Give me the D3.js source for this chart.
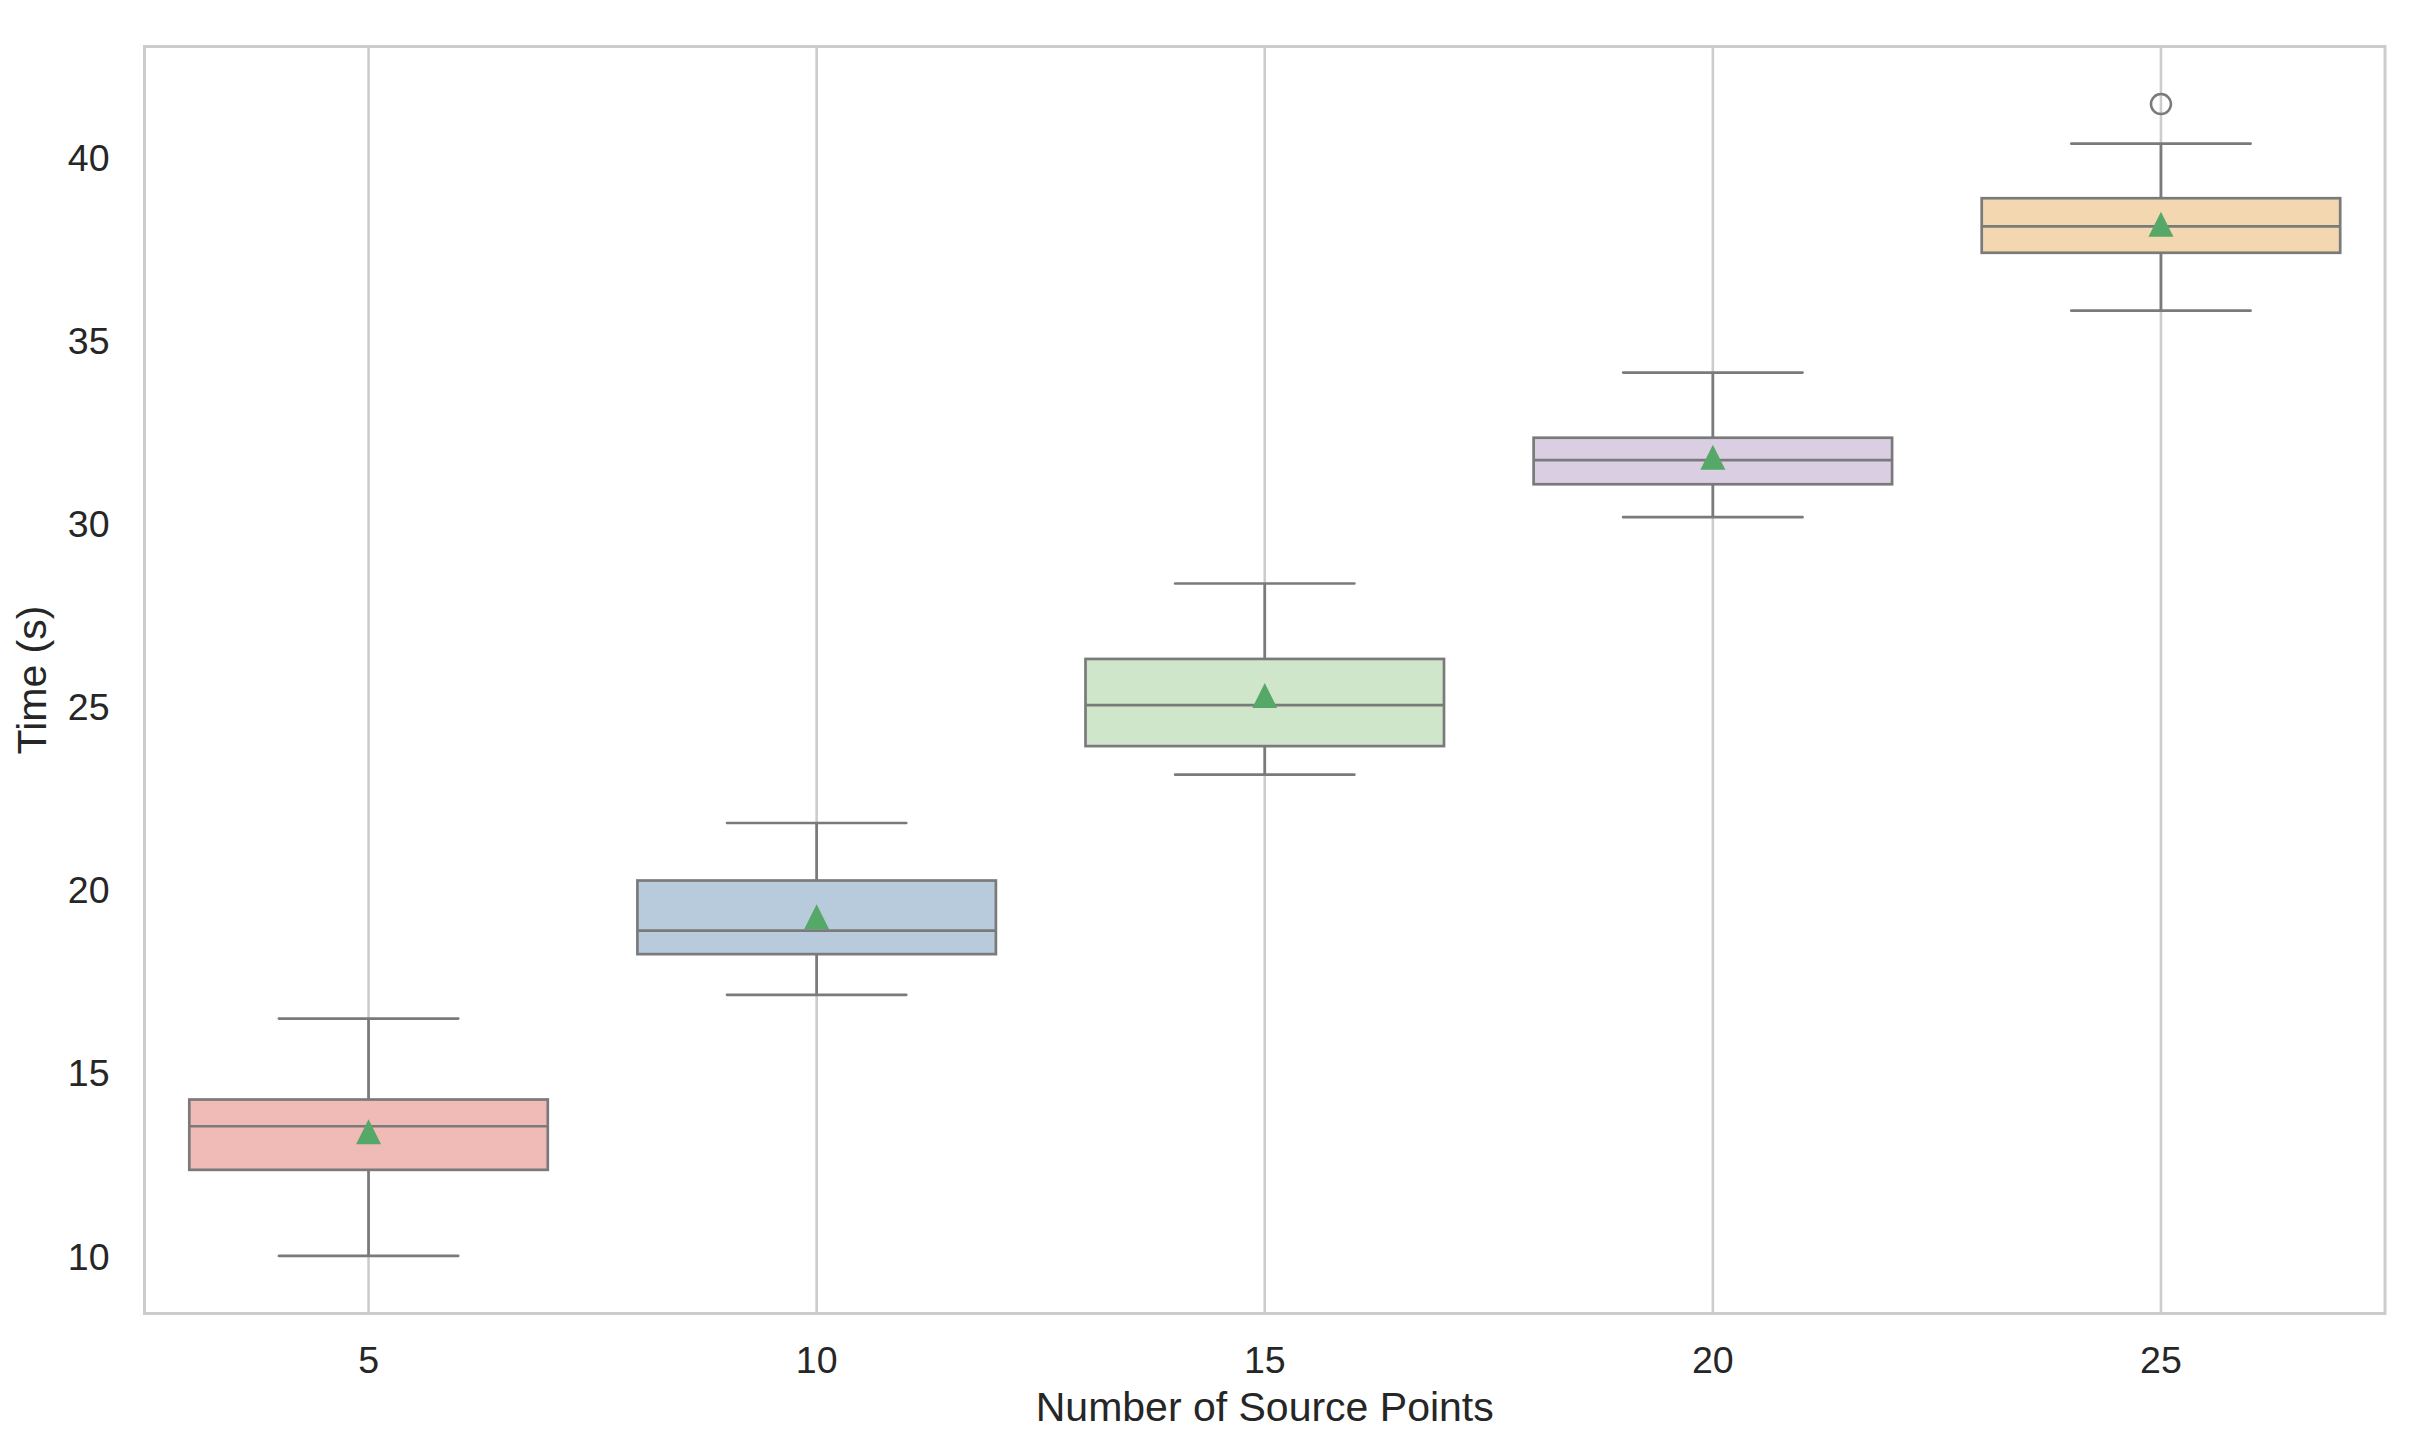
<!DOCTYPE html>
<html>
<head>
<meta charset="utf-8">
<script src="https://cdn.jsdelivr.net/npm/d3@7/dist/d3.min.js"></script>
<style>
  html, body { margin: 0; padding: 0; background: #ffffff; }
  svg { display: block; font-family: "Liberation Sans", Arial, sans-serif; }
</style>
</head>
<body>
<svg id="chart" width="2418" height="1452"></svg>
<script>
// ---- Data ----
const categories   = ["5", "10", "15", "20", "25"];
const whiskerLow   = [10.03, 17.16, 23.17, 30.20, 35.84];
const q1Values     = [12.38, 18.27, 23.95, 31.10, 37.42];
const medianValues = [13.57, 18.91, 25.07, 31.76, 38.14];
const q3Values     = [14.30, 20.28, 26.33, 32.37, 38.91];
const whiskerHigh  = [16.51, 21.85, 28.39, 34.15, 40.40];
const meanValues   = [13.42, 19.29, 25.33, 31.84, 38.20];
const outlierCats  = ["25"];
const outlierVals  = [41.48];
const yTickValues  = [10, 15, 20, 25, 30, 35, 40];
const boxColors    = ["#f0bab7", "#b8cbdd", "#cfe6cb", "#dacfe2", "#f2d7b0"];
const xLabel = "Number of Source Points";
const yLabel = "Time (s)";

// ---- Layout ----
const plot = { left: 144.5, top: 46.5, right: 2385, bottom: 1313.5 };
const lineColor = "#7a7a7a";
const gridColor = "#cccccc";
const textColor = "#262626";

const svg = d3.select("#chart");

const x = d3.scaleBand().domain(categories).range([plot.left, plot.right]).paddingInner(0).paddingOuter(0);
const bw = x.bandwidth();
const cx = c => x(c) + bw / 2;

const allVals = whiskerLow.concat(whiskerHigh, outlierVals);
const dMin = d3.min(allVals), dMax = d3.max(allVals);
const pad = (dMax - dMin) * 0.05;
const y = d3.scaleLinear().domain([dMin - pad, dMax + pad]).range([plot.bottom, plot.top]);

// vertical grid lines
svg.append("g").selectAll("line").data(categories).join("line")
  .attr("x1", d => cx(d)).attr("x2", d => cx(d))
  .attr("y1", plot.top).attr("y2", plot.bottom)
  .attr("stroke", gridColor).attr("stroke-width", 2.6);

const rows = categories.map((c, i) => ({
  c, lo: whiskerLow[i], q1: q1Values[i], med: medianValues[i], q3: q3Values[i],
  hi: whiskerHigh[i], mean: meanValues[i], color: boxColors[i]
}));

const boxW = bw * 0.8;
const capW = bw * 0.4;
const g = svg.append("g");

// whiskers
g.selectAll("line.wlo").data(rows).join("line").attr("class", "wlo")
  .attr("x1", d => cx(d.c)).attr("x2", d => cx(d.c))
  .attr("y1", d => y(d.lo)).attr("y2", d => y(d.q1))
  .attr("stroke", lineColor).attr("stroke-width", 2.7);
g.selectAll("line.whi").data(rows).join("line").attr("class", "whi")
  .attr("x1", d => cx(d.c)).attr("x2", d => cx(d.c))
  .attr("y1", d => y(d.q3)).attr("y2", d => y(d.hi))
  .attr("stroke", lineColor).attr("stroke-width", 2.7);
// caps
g.selectAll("line.clo").data(rows).join("line").attr("class", "clo")
  .attr("x1", d => cx(d.c) - capW / 2).attr("x2", d => cx(d.c) + capW / 2)
  .attr("y1", d => y(d.lo)).attr("y2", d => y(d.lo))
  .attr("stroke", lineColor).attr("stroke-width", 2.7).attr("stroke-linecap", "round");
g.selectAll("line.chi").data(rows).join("line").attr("class", "chi")
  .attr("x1", d => cx(d.c) - capW / 2).attr("x2", d => cx(d.c) + capW / 2)
  .attr("y1", d => y(d.hi)).attr("y2", d => y(d.hi))
  .attr("stroke", lineColor).attr("stroke-width", 2.7).attr("stroke-linecap", "round");
// boxes
g.selectAll("rect.box").data(rows).join("rect").attr("class", "box")
  .attr("x", d => cx(d.c) - boxW / 2).attr("width", boxW)
  .attr("y", d => y(d.q3)).attr("height", d => y(d.q1) - y(d.q3))
  .attr("fill", d => d.color).attr("stroke", lineColor).attr("stroke-width", 2.7);
// medians
g.selectAll("line.med").data(rows).join("line").attr("class", "med")
  .attr("x1", d => cx(d.c) - boxW / 2).attr("x2", d => cx(d.c) + boxW / 2)
  .attr("y1", d => y(d.med)).attr("y2", d => y(d.med))
  .attr("stroke", lineColor).attr("stroke-width", 2.7);
// means (triangles)
g.selectAll("path.mean").data(rows).join("path").attr("class", "mean")
  .attr("d", () => {
    const s = 12.5;
    return `M0,${-s}L${-s},${s}L${s},${s}Z`;
  })
  .attr("transform", d => `translate(${cx(d.c)},${y(d.mean)})`)
  .attr("fill", "#55a868");
// outliers
g.selectAll("circle.out").data(outlierCats.map((c, i) => ({ c, v: outlierVals[i] }))).join("circle")
  .attr("class", "out")
  .attr("cx", d => cx(d.c)).attr("cy", d => y(d.v)).attr("r", 10)
  .attr("fill", "none").attr("stroke", lineColor).attr("stroke-width", 2.5);

// frame
svg.append("rect")
  .attr("x", plot.left).attr("y", plot.top)
  .attr("width", plot.right - plot.left).attr("height", plot.bottom - plot.top)
  .attr("fill", "none").attr("stroke", gridColor).attr("stroke-width", 3);

// axes
const xAxis = svg.append("g").attr("transform", `translate(0,${plot.bottom})`)
  .call(d3.axisBottom(x).tickSize(0).tickPadding(33));
xAxis.select(".domain").remove();
xAxis.selectAll("text").attr("font-size", 37.5).attr("fill", textColor)
  .attr("font-family", "'Liberation Sans', Arial, sans-serif");

const yAxis = svg.append("g").attr("transform", `translate(${plot.left},0)`)
  .call(d3.axisLeft(y).tickValues(yTickValues).tickSize(0).tickPadding(35).tickFormat(d3.format("d")));
yAxis.select(".domain").remove();
yAxis.selectAll("text").attr("font-size", 37.5).attr("fill", textColor)
  .attr("font-family", "'Liberation Sans', Arial, sans-serif");

// axis labels
svg.append("text").attr("x", (plot.left + plot.right) / 2).attr("y", 1421)
  .attr("text-anchor", "middle").attr("font-size", 41).attr("fill", textColor)
  .text(xLabel);
svg.append("text")
  .attr("transform", `translate(46,${(plot.top + plot.bottom) / 2}) rotate(-90)`)
  .attr("text-anchor", "middle").attr("font-size", 41).attr("fill", textColor)
  .text(yLabel);
</script>
</body>
</html>
